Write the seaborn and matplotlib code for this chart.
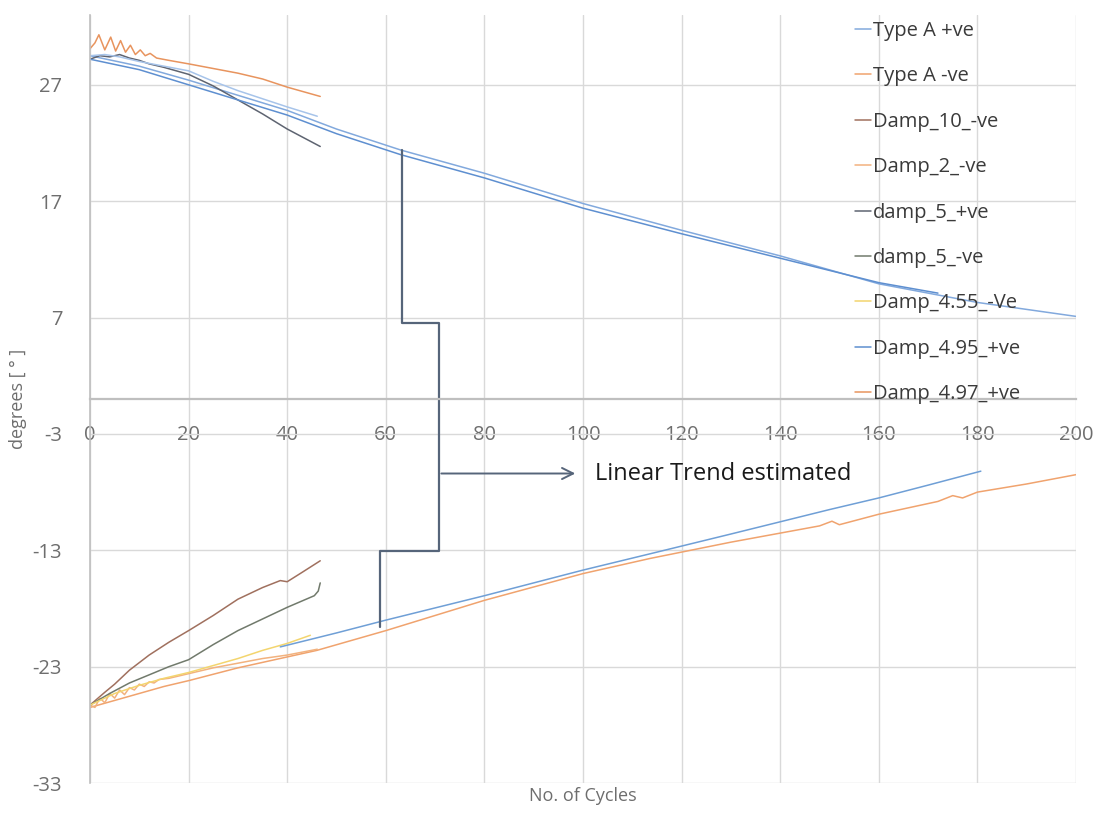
import seaborn as sns
import matplotlib.pyplot as plt

# ---------------------------------
# Data
# ---------------------------------
# Upper branch (+ve)
typeA_pos_x = [0, 10, 20, 30, 40, 50, 63, 80, 100, 120, 140, 160, 180, 200]
typeA_pos_y = [29.5, 28.6, 27.4, 26.1, 24.8, 23.2, 21.4, 19.4, 16.8, 14.5, 12.3, 9.9, 8.3, 7.1]

damp495_pos_x = [0, 10, 20, 30, 40, 50, 63, 80, 100, 120, 140, 160, 172]
damp495_pos_y = [29.2, 28.3, 27.0, 25.7, 24.4, 22.8, 21.0, 19.0, 16.4, 14.2, 12.1, 10.0, 9.1]

damp497_pos_x = [0, 1, 1.8, 3, 4.2, 5.2, 6.2, 7.2, 8.2, 9.2, 10.2, 11.2, 12.2, 13.5,
                 16, 20, 25, 30, 35, 40, 46.7]
damp497_pos_y = [30.1, 30.6, 31.3, 30.0, 31.1, 29.9, 30.8, 29.8, 30.4, 29.6, 30.0, 29.5,
                 29.7, 29.3, 29.1, 28.8, 28.4, 28.0, 27.5, 26.8, 26.0]

damp5_pos_x = [0, 2, 4, 6, 8, 10, 12, 15, 20, 25, 30, 35, 40, 46.7]
damp5_pos_y = [29.2, 29.5, 29.4, 29.6, 29.3, 29.1, 28.8, 28.5, 27.9, 26.9, 25.7, 24.5, 23.2, 21.7]

short_blue_x = [0, 3, 6, 10, 15, 20, 25, 30, 35, 40, 46.1]
short_blue_y = [29.5, 29.6, 29.4, 29.0, 28.6, 28.2, 27.3, 26.5, 25.8, 25.1, 24.3]

# Lower branch (-ve)
typeA_neg_x = [0, 5, 10, 15, 20, 30, 46, 60, 80, 100, 113.6, 130, 148, 150.5, 152,
               160, 172, 175, 177, 180, 190, 200]
typeA_neg_y = [-26.5, -25.9, -25.3, -24.7, -24.2, -23.1, -21.6, -19.9, -17.3, -15.0,
               -13.7, -12.3, -10.9, -10.5, -10.8, -9.9, -8.8, -8.3, -8.5, -8.0, -7.3, -6.5]

damp10_neg_x = [0, 3, 5, 8, 12, 16, 20, 25, 30, 35, 38.6, 40, 43, 46.7]
damp10_neg_y = [-26.3, -25.2, -24.5, -23.3, -22.0, -20.9, -19.9, -18.6, -17.2, -16.2,
                -15.6, -15.7, -14.9, -13.9]

damp2_neg_x = [0, 1, 2, 3, 4, 5, 6, 7, 8, 9, 10, 11, 12, 13, 14, 16, 20, 25, 30, 35, 40, 46.1]
damp2_neg_y = [-26.3, -26.5, -25.7, -26.1, -25.3, -25.7, -25.0, -25.4, -24.8, -25.0, -24.5,
               -24.7, -24.3, -24.4, -24.1, -24.0, -23.6, -23.1, -22.7, -22.3, -22.0, -21.5]

damp5_neg_x = [0, 4, 8, 12, 16, 20, 25, 30, 35, 40, 45.5, 46.3, 46.7]
damp5_neg_y = [-26.3, -25.3, -24.4, -23.7, -23.0, -22.4, -21.1, -19.9, -18.9, -17.9,
               -16.9, -16.5, -15.8]

damp455_neg_x = [0, 5, 10, 15, 20, 25, 30, 35, 40, 44.7]
damp455_neg_y = [-26.3, -25.3, -24.6, -24.0, -23.5, -22.9, -22.3, -21.6, -21.0, -20.3]

lower_blue_x = [38.6, 50, 60, 80, 100, 113.6, 130, 150, 160, 170, 180.7]
lower_blue_y = [-21.3, -20.1, -19.0, -16.9, -14.7, -13.3, -11.6, -9.5, -8.5, -7.4, -6.2]

# Series: (label, x, y, colour); None label = not in legend
series = [
    ("Type A +ve", typeA_pos_x, typeA_pos_y, "#82A9DD"),
    ("Type A -ve", typeA_neg_x, typeA_neg_y, "#F0A36E"),
    ("Damp_10_-ve", damp10_neg_x, damp10_neg_y, "#A0705E"),
    ("Damp_2_-ve", damp2_neg_x, damp2_neg_y, "#F2B27E"),
    ("damp_5_+ve", damp5_pos_x, damp5_pos_y, "#5E6471"),
    ("damp_5_-ve", damp5_neg_x, damp5_neg_y, "#717A6C"),
    ("Damp_4.55_-Ve", damp455_neg_x, damp455_neg_y, "#F3D56E"),
    ("Damp_4.95_+ve", damp495_pos_x, damp495_pos_y, "#5E8FD0"),
    ("Damp_4.97_+ve", damp497_pos_x, damp497_pos_y, "#E8945E"),
    (None, short_blue_x, short_blue_y, "#A7C4EA"),
    (None, lower_blue_x, lower_blue_y, "#6F9FD6"),
]

# Axis ticks
x_ticks = list(range(0, 201, 20))
y_ticks = [-33, -23, -13, -3, 7, 17, 27]

# Annotation bracket ("Linear Trend estimated")
bracket_x = [63.2, 63.2, 70.7, 70.7, 58.8, 58.8]
bracket_y = [21.4, 6.5, 6.5, -13.1, -13.1, -19.6]
arrow_start = (70.7, -6.4)
arrow_end = (99.0, -6.4)
note_pos = (102.5, -6.4)

# ---------------------------------
# Plot
# ---------------------------------
sns.set_style("whitegrid", {"grid.color": "#D9D9D9"})
plt.rcParams['font.family'] = ['Open Sans', 'DejaVu Sans']
plt.rcParams['axes.unicode_minus'] = False

f, ax = plt.subplots(figsize=(11.03, 8.14), dpi=100)
f.subplots_adjust(left=0.0816, right=0.9755, bottom=0.038, top=0.9816)

handles, labels = [], []
for name, xs, ys, col in series:
    sns.lineplot(x=xs, y=ys, ax=ax, color=col, linewidth=1.1,
                 estimator=None, sort=False)
    if name is not None:
        handles.append(ax.get_lines()[-1])
        labels.append(name)

# Bracket + arrow
ax.plot(bracket_x, bracket_y, color="#56657A", linewidth=1.6)
ax.annotate("", xy=arrow_end, xytext=arrow_start,
            arrowprops=dict(arrowstyle="->", color="#56657A", lw=1.4,
                            mutation_scale=20))
ax.text(note_pos[0], note_pos[1], "Linear Trend estimated", fontsize=17,
        color="#1A1A1A", va="center", ha="left")

# Axes config
ax.set_xlim(0, 200)
ax.set_ylim(-33, 33)
ax.set_xticks(x_ticks)
ax.set_yticks(y_ticks)
ax.grid(True, color="#D9D9D9", linewidth=1)
for s in ["top", "right"]:
    ax.spines[s].set_visible(False)
ax.spines["bottom"].set_position(("data", 0))
ax.spines["bottom"].set_color("#BFBFBF")
ax.spines["bottom"].set_linewidth(1.6)
ax.spines["left"].set_color("#BFBFBF")
ax.spines["left"].set_linewidth(1.2)
ax.tick_params(axis="x", length=0, pad=19, labelsize=14.5, labelcolor="#6E6E6E")
ax.tick_params(axis="y", length=0, pad=20, labelsize=14.5, labelcolor="#6E6E6E")

ax.set_xlabel("No. of Cycles", fontsize=13, color="#6E6E6E")
ax.xaxis.set_label_coords(0.5, -0.005)
ax.xaxis.label.set_va("top")
ax.set_ylabel("degrees [ ° ]", fontsize=13, color="#6E6E6E")
ax.yaxis.set_label_coords(-0.064, 0.5)

# Legend
ax.legend(handles, labels, loc="upper left", frameon=False,
          bbox_to_anchor=(845 / 1103, 1 - 11 / 814), bbox_transform=f.transFigure,
          borderpad=0, fontsize=14.5, handlelength=0.8, handletextpad=0.1,
          labelspacing=1.26, labelcolor="#3A3A3A")

plt.savefig("out.png", dpi=100)
